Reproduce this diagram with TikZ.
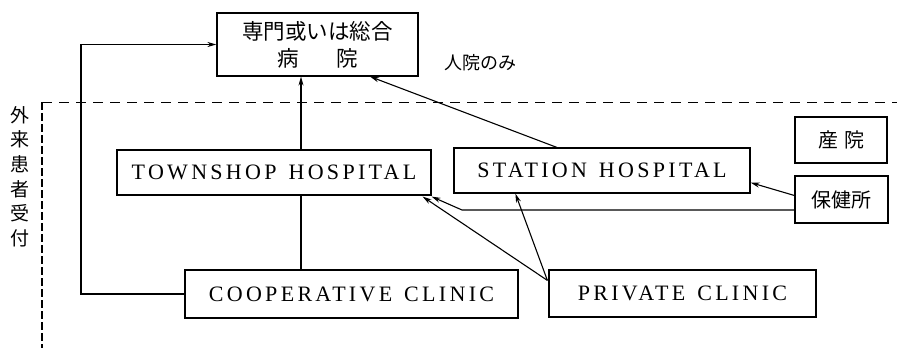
\documentclass[tikz,border=0pt]{standalone}
\usepackage{fontspec}
\usetikzlibrary{arrows.meta,calc}
\newfontfamily\jp{Noto Sans CJK JP}
\newfontfamily\en{Liberation Serif}[LetterSpace=15]
\tikzset{
  box/.style={draw, line width=1.2pt, inner sep=0pt, align=center},
  entext/.style={font=\en\fontsize{22}{24}\selectfont},
  jptext/.style={font=\jp\fontsize{20}{24}\selectfont},
  conn/.style={line width=1.1pt},
  arr/.style={conn, -{Stealth[length=9pt,width=5pt]}},
  bdash/.style={line width=1pt, dash pattern=on 10pt off 7pt}
}
\begin{document}
\begin{tikzpicture}[x=1pt,y=-1pt]
\useasboundingbox (0,0) rectangle (897,348);
% boxes
\node[box, minimum width=201pt, minimum height=63pt, font=\jp\fontsize{21.5}{27}\selectfont] (top) at (317.5,44.5) {専門或いは総合\\病\hspace{38pt}院};
\node[box, entext, minimum width=314pt, minimum height=45pt] (town) at (274,172.5) {TOWNSHOP\hspace{12pt}HOSPITAL};
\node[box, entext, minimum width=296pt, minimum height=45pt] (station) at (602,170.5) {STATION\hspace{12pt}HOSPITAL};
\node[box, entext, minimum width=333pt, minimum height=48pt] (coop) at (351.5,294) {COOPERATIVE\hspace{12pt}CLINIC};
\node[box, entext, minimum width=267pt, minimum height=47pt] (private) at (682.5,293.5) {PRIVATE\hspace{12pt}CLINIC};
\node[box, jptext, minimum width=92pt, minimum height=46pt] (sanin) at (841,140) {産\hspace{6pt}院};
\node[box, jptext, minimum width=93pt, minimum height=47pt] (hoken) at (841.5,199.5) {保健所};
% labels
\node[font=\jp\fontsize{18}{20}\selectfont, inner sep=0pt] (inpt) at (480,63) {人院のみ};
\node[font=\jp\fontsize{19}{24.6}\selectfont, align=center, inner sep=0pt] (gairai) at (20,176.5) {外\\来\\患\\者\\受\\付};
% dashed boundary
\coordinate (dc) at (42,102);
\draw[bdash] (dc) -- (897,102);
\draw[line width=1.2pt, dash pattern=on 8pt off 3pt] (dc) -- (42,348);
% connectors
\coordinate (lc) at (81,0);
\draw[arr] (coop.west) -- (coop.west -| lc) |- (top.west);
\coordinate (vx) at (301,0);
\draw[arr] (vx |- town.north) -- (vx |- top.south);
\draw[conn] (vx |- town.south) -- (vx |- coop.north);
\draw[arr] ($(station.north west)!0.348!(station.north east)$) -- ($(top.south west)!0.76!(top.south east)$);
\draw[arr] ($(hoken.west)+(0,-4)$) -- ($(station.south east)+(0,-11)$);
\coordinate (bend) at (462,210);
\draw[arr] (hoken.west |- bend) -- (bend) -- ($(town.south east)+(0,1)$);
\coordinate (pc) at ($(private.north west)+(-1,11)$);
\draw[arr] (pc) -- ($(town.south east)+(-9,1)$);
\draw[arr] (pc) -- ($(station.south west)+(62,0)$);
\end{tikzpicture}
\end{document}
